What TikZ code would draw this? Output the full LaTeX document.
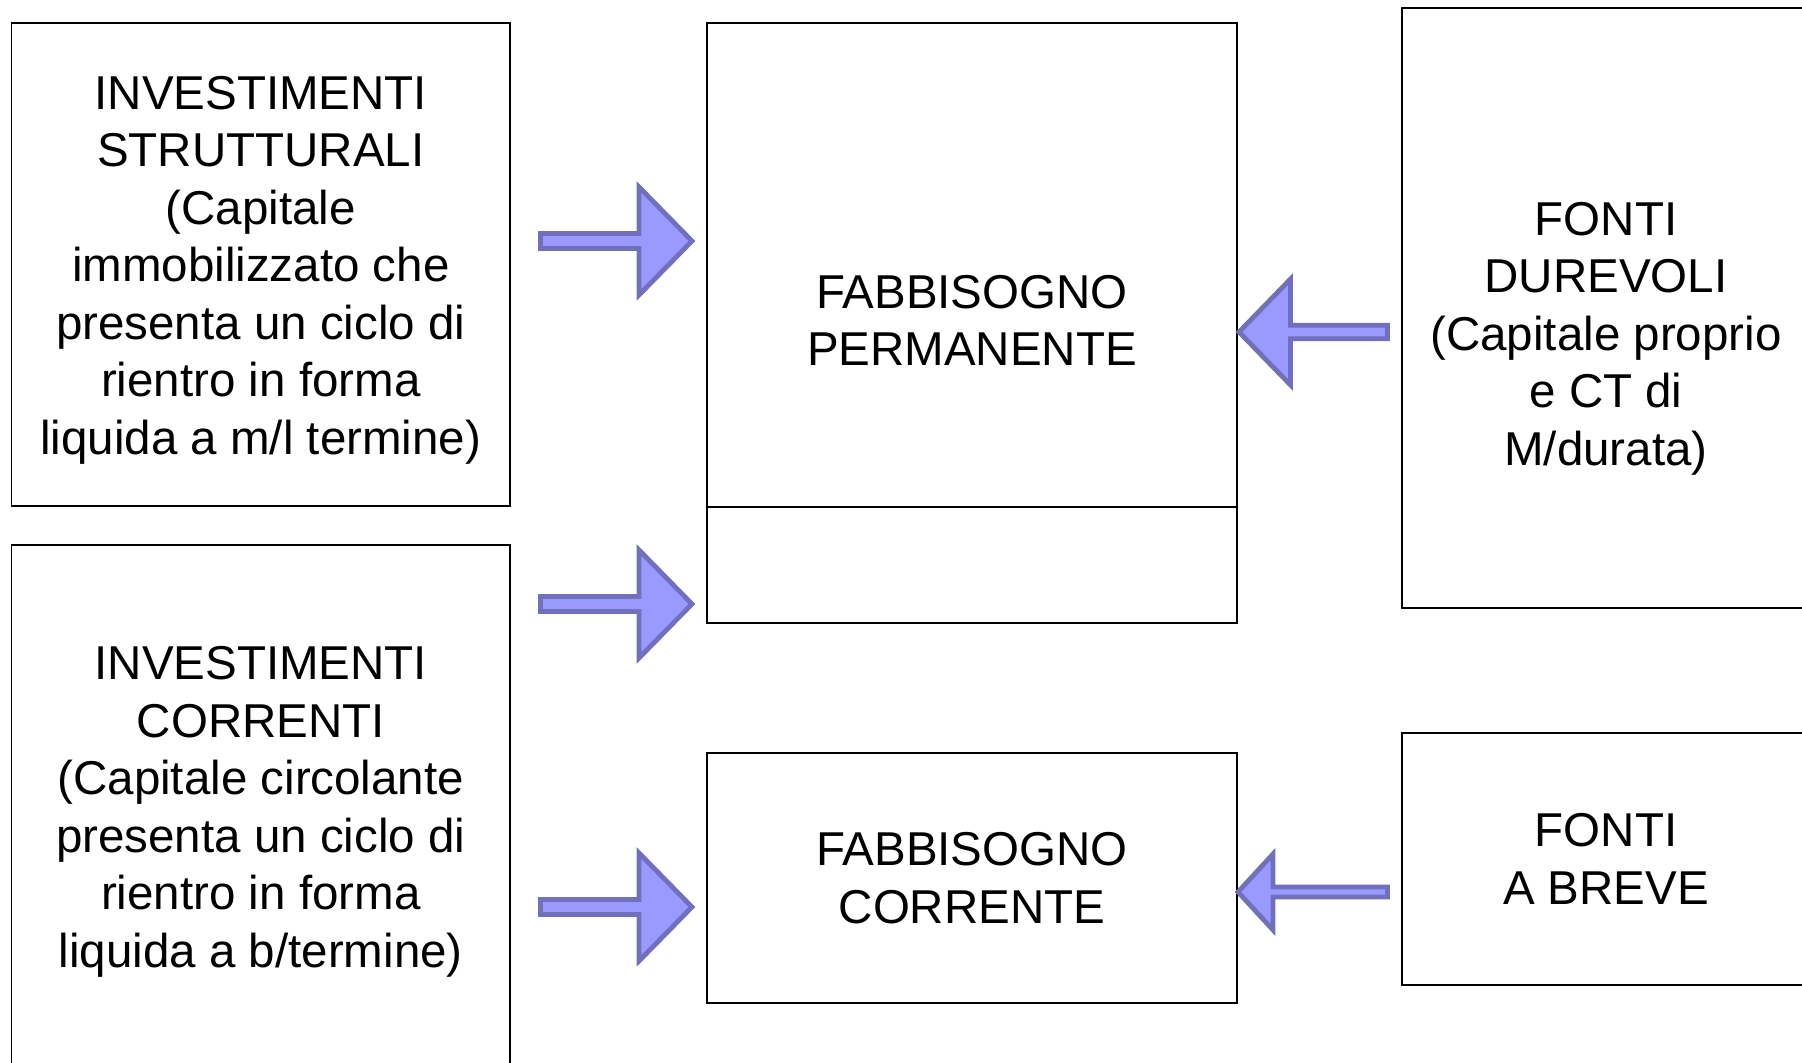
\documentclass[tikz,border=0pt]{standalone}
\usepackage{fontspec}
\setmainfont{Liberation Sans}
\usetikzlibrary{positioning}

\begin{document}
\begin{tikzpicture}
[x=1pt,y=-1pt,
 box/.style={draw=black,line width=0.9pt,rectangle,inner sep=0pt},
 txt/.style={inner sep=0pt,align=center,font=\fontsize{23.75}{28.75}\selectfont},
 fatarrow/.style={draw={rgb,255:red,112;green,112;blue,188},fill={rgb,255:red,153;green,153;blue,255},line width=2.4pt,line join=miter}]
\useasboundingbox (0,0) rectangle (901,531.5);

\node[box,minimum width=249.25pt,minimum height=241.5pt] (strutt) at (130.4,132.25) {};
\node[txt] (struttxt) at (130.4,135.1)
  {INVESTIMENTI\\STRUTTURALI\\(Capitale\\immobilizzato che\\presenta un ciclo di\\rientro in forma\\liquida a m/l termine)};
\node[box,minimum width=249.25pt,minimum height=261pt] (corr) at (130.4,403) {};
\node[txt] (corrtxt) at (130.4,405.9)
  {INVESTIMENTI\\CORRENTI\\(Capitale circolante\\presenta un ciclo di\\rientro in forma\\liquida a b/termine)};
\node[box,minimum width=265pt,minimum height=300pt] (perm) at (486,161.5) {};
\node[txt] (permtxt) at (486,160.1) {FABBISOGNO\\PERMANENTE};
\node[box,txt,minimum width=265pt,minimum height=125pt] (fcorr) at (486,439)
  {FABBISOGNO\\CORRENTE};
\node[box,minimum width=204pt,minimum height=300pt] (durevoli) at (803,154) {};
\node[txt] (durtxt) at (803,169.4)
  {FONTI\\DUREVOLI\\(Capitale proprio\\e CT di\\M/durata)};
\node[box,txt,minimum width=204pt,minimum height=126pt] (breve) at (803,429.5)
  {FONTI\\A BREVE};

% divider in the permanent box
\draw[line width=0.9pt] ([yshift=58.5pt]perm.south west) -- ([yshift=58.5pt]perm.south east);

% arrows into the needs
\foreach \y in {120.5,302,453.5}
  \draw[fatarrow] (270.25,\y-3.75) -- (319.5,\y-3.75) -- (319.5,\y-27) -- (346,\y)
    -- (319.5,\y+27) -- (319.5,\y+3.75) -- (270.25,\y+3.75) -- cycle;

% arrows from the sources
\draw[fatarrow] (693.75,162.6) -- (645.25,162.6) -- (645.25,139.5) -- (619.5,166)
  -- (645.25,192.5) -- (645.25,169.4) -- (693.75,169.4) -- cycle;
\draw[fatarrow] (693.75,443.5) -- (636.5,443.5) -- (636.5,427) -- (619,446)
  -- (636.5,465) -- (636.5,448.5) -- (693.75,448.5) -- cycle;
\end{tikzpicture}
\end{document}
